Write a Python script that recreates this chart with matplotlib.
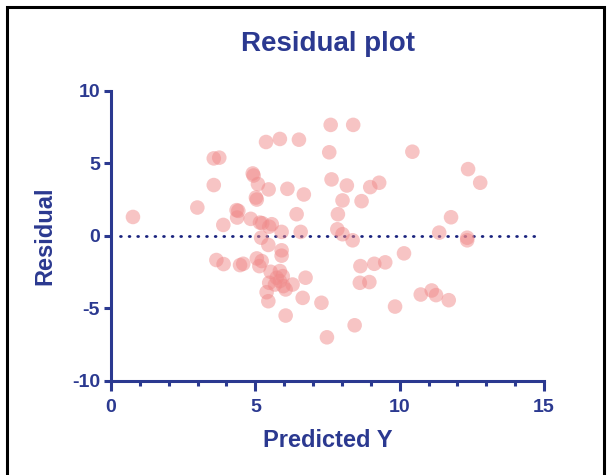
import matplotlib.pyplot as plt
from matplotlib.patches import Rectangle
from matplotlib.ticker import MultipleLocator

plt.rcParams['font.family'] = ['Liberation Sans', 'DejaVu Sans']
plt.rcParams['axes.unicode_minus'] = False

# -------------------- Data -------------------- #
predicted = [0.76, 2.99, 3.56, 3.75, 3.56, 3.89, 5.37, 5.85, 6.51, 4.91, 4.94, 5.09,
             5.46, 6.11, 5.02, 5.05, 4.35, 4.41, 4.37, 4.84, 5.16, 5.24, 5.57, 5.48,
             5.91, 6.43, 6.57, 5.20, 5.45, 5.91, 5.91, 3.65, 3.90, 4.47, 4.58, 5.05,
             5.22, 5.14, 5.53, 5.85, 5.74, 5.85, 5.48, 5.68, 5.97, 6.05, 6.29, 5.39,
             5.45, 6.05, 6.74, 6.64, 7.29, 7.48, 8.44, 8.64, 9.12, 9.50, 8.62, 8.95,
             10.15, 9.84, 10.73, 11.11, 11.26, 11.70, 7.61, 8.39, 7.56, 10.44, 12.37,
             12.79, 6.68, 7.64, 8.17, 8.98, 9.29, 8.02, 8.68, 7.86, 7.84, 8.02, 8.37,
             11.37, 11.78, 12.34, 12.34, 5.95]
residual = [1.31, 1.96, 5.35, 5.40, 3.51, 0.76, 6.48, 6.69, 6.64, 4.31, 4.17, 3.58,
            3.21, 3.25, 2.65, 2.51, 1.78, 1.73, 1.27, 1.18, 0.92, 0.88, 0.81, 0.64,
            0.28, 1.50, 0.28, -0.12, -0.62, -0.99, -1.36, -1.66, -1.94, -2.01, -1.92, -1.55,
            -1.73, -2.08, -2.47, -2.42, -2.88, -3.11, -3.23, -3.35, -3.46, -3.69, -3.35, -3.88,
            -4.50, -5.49, -2.88, -4.27, -4.61, -6.99, -6.16, -2.08, -1.92, -1.82, -3.23, -3.18,
            -1.20, -4.87, -4.04, -3.76, -4.08, -4.43, 7.66, 7.66, 5.77, 5.81, 4.61,
            3.67, 2.86, 3.90, 3.48, 3.37, 3.67, 2.45, 2.40, 1.50, 0.46, 0.12, -0.30,
            0.23, 1.29, -0.30, -0.12, -2.77]
zero_line_x = [0.3, 14.9]

navy = '#2B3990'

# -------------------- Plot -------------------- #
fig = plt.figure(figsize=(6.07, 4.75), dpi=100)
ax = fig.add_axes([0.1829, 0.198, 0.7133, 0.6105])

ax.scatter(predicted, residual, s=110, color='#F08A8A', alpha=0.5, edgecolors='none', zorder=3)
ax.plot(zero_line_x, [0, 0], color='#1A237E', lw=2, dashes=(0.3, 2.8),
        dash_capstyle='round', zorder=2)

ax.set_xlim(0, 15)
ax.set_ylim(-10, 10)
ax.xaxis.set_major_locator(MultipleLocator(5))
ax.xaxis.set_minor_locator(MultipleLocator(1))
ax.yaxis.set_major_locator(MultipleLocator(5))

for side in ['top', 'right']:
    ax.spines[side].set_visible(False)
for side in ['left', 'bottom']:
    ax.spines[side].set_color(navy)
    ax.spines[side].set_linewidth(2.2)
    ax.spines[side].set_capstyle('projecting')

ax.tick_params(axis='both', which='major', color=navy, width=2.2,
               labelsize=14, labelcolor=navy)
ax.tick_params(axis='x', which='major', length=7, pad=6)
ax.tick_params(axis='y', which='major', length=5, pad=3)
ax.tick_params(axis='x', which='minor', color=navy, width=2.2, length=3.5)
for lab in ax.get_xticklabels() + ax.get_yticklabels():
    lab.set_fontweight('bold')

ax.set_title('Residual plot', fontsize=20, fontweight='bold', color=navy, pad=29)
ax.set_xlabel('Predicted Y', fontsize=17, fontweight='bold', color=navy, labelpad=9)
ax.set_ylabel('Residual', fontsize=17, fontweight='bold', color=navy, labelpad=11)

# outer frame
fig.patches.append(Rectangle((7 / 607, -0.05), 597 / 607, 1.05 - 7 / 475,
                             transform=fig.transFigure, fill=False,
                             edgecolor='black', linewidth=2.2))

fig.savefig('out.png', dpi=100)
